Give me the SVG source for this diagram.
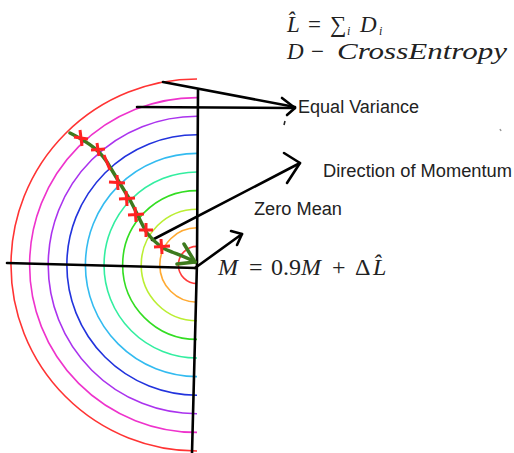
<svg xmlns="http://www.w3.org/2000/svg" width="514" height="453" viewBox="0 0 514 453">
<style>
.arc{fill:none;stroke-width:1.6}
.blk{fill:none;stroke:#000;stroke-width:2.6;stroke-linecap:round;stroke-linejoin:round}
.lbl{font-family:"Liberation Sans",Arial,sans-serif;font-size:18px;fill:#222}
.m{font-family:"Liberation Serif","Times New Roman",serif;fill:#222}
.it{font-style:italic}
.cross{stroke:#ff2222;stroke-width:3;stroke-linecap:butt}
</style>
<rect width="514" height="453" fill="#fff"/>
<g id="rings">
<path class="arc" stroke="#ff3a3a" d="M197 246.4A18.6 18.6 0 0 0 197 283.6"/>
<path class="arc" stroke="#ffaa33" d="M197 227.8A37.2 37.2 0 0 0 197 302.2"/>
<path class="arc" stroke="#bbee33" d="M197 209.2A55.8 55.8 0 0 0 197 320.8"/>
<path class="arc" stroke="#33dd22" d="M197 190.6A74.4 74.4 0 0 0 197 339.4"/>
<path class="arc" stroke="#33eea0" d="M197 172A93 93 0 0 0 197 358"/>
<path class="arc" stroke="#33bbf0" d="M197 153.4A111.6 111.6 0 0 0 197 376.6"/>
<path class="arc" stroke="#2233dd" d="M197 134.8A130.2 130.2 0 0 0 197 395.2"/>
<path class="arc" stroke="#aa33ee" d="M197 116.2A148.8 148.8 0 0 0 197 413.8"/>
<path class="arc" stroke="#ee33cc" d="M197 97.6A167.4 167.4 0 0 0 197 432.4"/>
<path class="arc" stroke="#ff3333" d="M197 79A186 186 0 0 0 197 451"/>
</g>
<g id="axes">
<path class="blk" d="M198 90L197 262L192 453"/>
<path class="blk" d="M7 263L196 268"/>
</g>
<g id="connectors">
<g id="equal-variance-arrow">
<path class="blk" d="M163 82L295 107"/>
<path class="blk" d="M137 107L295 108"/>
<path class="blk" d="M282 98L295 108L287 115"/>
</g>
<g id="momentum-arrow">
<path class="blk" d="M152 240L300 163"/>
<path class="blk" d="M284 153L300 163L287 183"/>
</g>
<g id="update-arrow">
<path class="blk" d="M195 268L242 234"/>
<path class="blk" d="M231 231L242 234L237 245"/>
</g>
<g id="path">
<path fill="none" stroke="#3d7a1e" stroke-width="3.5" stroke-linecap="round" stroke-linejoin="round" d="M70 133C90 143 102 152 110 167C118 180 124 190 130 200C137 213 142 225 147 233C155 243 162 249 172 252C182 256 190 259 195 262"/>
<path fill="none" stroke="#3d7a1e" stroke-width="3.5" stroke-linecap="round" stroke-linejoin="round" d="M184 244L195 262L177 264"/>
<g class="cross">
<path d="M74 137L88 139M80 130L82 146"/>
<path d="M91 150L105 149M97 143L99 156"/>
<path d="M104 155L110 170"/>
<path d="M109 182L125 183M117 175L118 190"/>
<path d="M119 199L135 198M126 191L127 206"/>
<path d="M128 215L144 214M135 207L136 222"/>
<path d="M139 230L153 230M146 223L146 237"/>
<path d="M154 247L170 246M161 239L162 254"/>
</g>
</g>
<g id="marks">
<path d="M285 121L284 125" stroke="#222" stroke-width="1.6"/>
<path d="M500 129L501 131" stroke="#999" stroke-width="1.5"/>
</g>
</g>
<g id="formula-top">
<text class="m" font-size="23" y="32"><tspan class="it" x="287">L̂</tspan><tspan x="308">=</tspan><tspan x="330">∑</tspan><tspan class="it" x="347" y="35" font-size="12">i</tspan><tspan class="it" x="360" y="32">D</tspan><tspan class="it" x="379" y="35" font-size="12">i</tspan></text>
<text class="m" font-size="23" y="58.5"><tspan class="it" x="287">D</tspan><tspan x="311">−</tspan><tspan class="it" x="337" textLength="170" lengthAdjust="spacingAndGlyphs">CrossEntropy</tspan></text>
</g>
<g id="label-equal-variance"><text class="lbl" x="298" y="113" textLength="121" lengthAdjust="spacingAndGlyphs">Equal Variance</text></g>
<g id="label-direction"><text class="lbl" x="323" y="177" textLength="189" lengthAdjust="spacingAndGlyphs">Direction of Momentum</text></g>
<g id="label-zero-mean"><text class="lbl" x="254" y="215" textLength="88" lengthAdjust="spacingAndGlyphs">Zero Mean</text></g>
<g id="formula-update">
<text class="m" font-size="24" y="275"><tspan class="it" x="218">M</tspan><tspan x="249">=</tspan><tspan x="271">0.9</tspan><tspan class="it" x="301">M</tspan><tspan x="332">+</tspan><tspan x="355">Δ</tspan><tspan class="it" x="373">L̂</tspan></text>
</g>
</svg>
